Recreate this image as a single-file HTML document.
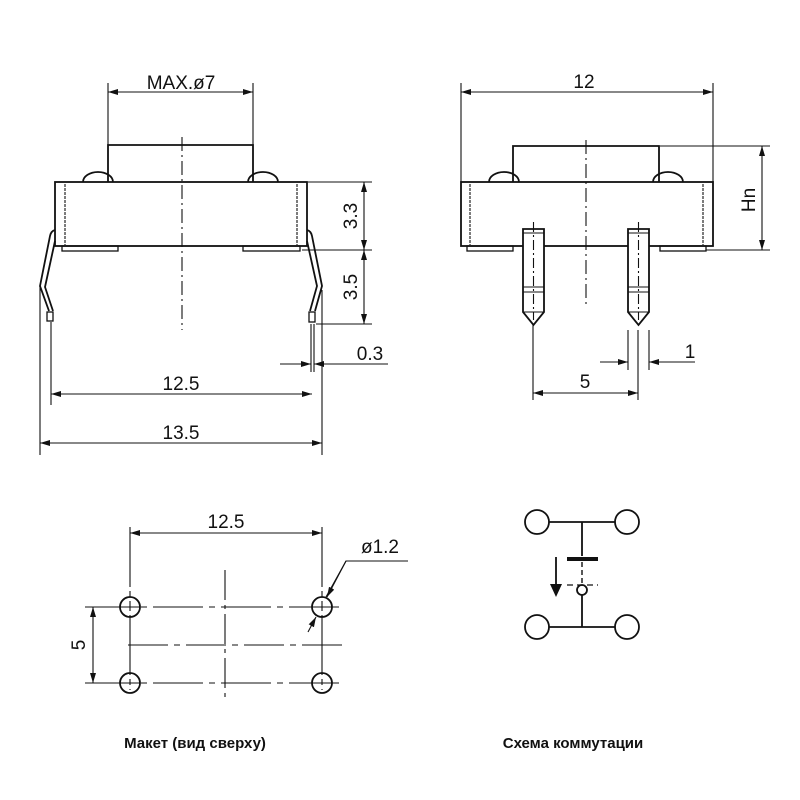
<!DOCTYPE html>
<html><head><meta charset="utf-8"><style>
html,body{margin:0;padding:0;background:#fff}
svg{display:block}
text{font-family:"Liberation Sans",Arial,sans-serif;fill:#111}
</style></head><body>
<svg width="800" height="800" viewBox="0 0 800 800" xmlns="http://www.w3.org/2000/svg">
<defs>
<marker id="a" viewBox="0 0 10 6" refX="10" refY="3" markerWidth="10" markerHeight="6" orient="auto-start-reverse" markerUnits="userSpaceOnUse"><path d="M0,0 L10,3 L0,6 z" fill="#111"/></marker>
</defs>
<g stroke="#111" fill="none" stroke-width="1.1">
<!-- ===== Top-left view ===== -->
<line x1="108" y1="83" x2="108" y2="145"/><line x1="253" y1="83" x2="253" y2="145"/>
<line x1="108" y1="92" x2="253" y2="92" marker-start="url(#a)" marker-end="url(#a)"/>
<g stroke-width="1.8">
<polyline points="108,182 108,145 253,145 253,182"/>
<path d="M83,182 A15,10 0 0 1 113,182"/><path d="M248,182 A15,10 0 0 1 278,182"/>
<rect x="55" y="182" width="252" height="64"/>
<rect x="62" y="246" width="56" height="5" stroke-width="1.3"/>
<rect x="243" y="246" width="57" height="5" stroke-width="1.3"/>
<path d="M55,230 Q51,231 50,236 L40,286 L49,311"/>
<polyline points="55,241 45,287 53,311"/>
<rect x="47" y="312" width="6" height="9" stroke-width="1.3"/>
<path d="M307,230 Q311,231 312,236 L322,286 L315,311"/>
<polyline points="307,241 317,286 310,311"/>
<rect x="309" y="312" width="6" height="10" stroke-width="1.3"/>
</g>
<line x1="65" y1="184" x2="65" y2="245" stroke-dasharray="3,1"/>
<line x1="297" y1="184" x2="297" y2="245" stroke-dasharray="3,1"/>
<line x1="182" y1="137" x2="182" y2="330" stroke-dasharray="14,4,2,4"/>
<line x1="308" y1="182" x2="372" y2="182"/>
<line x1="302" y1="250" x2="372" y2="250"/>
<line x1="316" y1="324" x2="372" y2="324"/>
<line x1="364" y1="182" x2="364" y2="250" marker-start="url(#a)" marker-end="url(#a)"/>
<line x1="364" y1="250" x2="364" y2="324" marker-start="url(#a)" marker-end="url(#a)"/>
<line x1="311" y1="324" x2="311" y2="372"/><line x1="314" y1="324" x2="314" y2="372"/>
<line x1="280" y1="364" x2="311" y2="364" marker-end="url(#a)"/>
<line x1="388" y1="364" x2="314" y2="364" marker-end="url(#a)"/>
<line x1="51" y1="322" x2="51" y2="405"/>
<line x1="40" y1="286" x2="40" y2="455"/>
<line x1="322" y1="290" x2="322" y2="455"/>
<line x1="51" y1="394" x2="312" y2="394" marker-start="url(#a)" marker-end="url(#a)"/>
<line x1="40" y1="443" x2="322" y2="443" marker-start="url(#a)" marker-end="url(#a)"/>
<!-- ===== Top-right view ===== -->
<line x1="461" y1="83" x2="461" y2="182"/><line x1="713" y1="83" x2="713" y2="182"/>
<line x1="461" y1="92" x2="713" y2="92" marker-start="url(#a)" marker-end="url(#a)"/>
<g stroke-width="1.8">
<polyline points="513,182 513,146 659,146 659,182"/>
<path d="M489,182 A15,10 0 0 1 519,182"/><path d="M653,182 A15,10 0 0 1 683,182"/>
<rect x="461" y="182" width="252" height="64"/>
<rect x="467" y="246" width="46" height="5" stroke-width="1.3"/>
<rect x="660" y="246" width="46" height="5" stroke-width="1.3"/>
<path d="M523,229 H544 V312 L533.5,325 L523,312 Z" fill="#fff"/>
<path d="M628,229 H649 V312 L638.5,325 L628,312 Z" fill="#fff"/>
</g>
<line x1="523" y1="233" x2="544" y2="233"/><line x1="523" y1="287" x2="544" y2="287"/><line x1="523" y1="292" x2="544" y2="292"/><line x1="523" y1="312" x2="544" y2="312"/>
<line x1="628" y1="233" x2="649" y2="233"/><line x1="628" y1="287" x2="649" y2="287"/><line x1="628" y1="292" x2="649" y2="292"/><line x1="628" y1="312" x2="649" y2="312"/>
<line x1="533.5" y1="222" x2="533.5" y2="320" stroke-dasharray="10,3,2,3"/>
<line x1="638.5" y1="222" x2="638.5" y2="320" stroke-dasharray="10,3,2,3"/>
<line x1="470" y1="184" x2="470" y2="245" stroke-dasharray="3,1"/>
<line x1="703" y1="184" x2="703" y2="245" stroke-dasharray="3,1"/>
<line x1="586" y1="140" x2="586" y2="305" stroke-dasharray="14,4,2,4"/>
<line x1="660" y1="146" x2="770" y2="146"/>
<line x1="706" y1="250" x2="770" y2="250"/>
<line x1="762" y1="146" x2="762" y2="250" marker-start="url(#a)" marker-end="url(#a)"/>
<line x1="628" y1="330" x2="628" y2="370"/><line x1="649" y1="330" x2="649" y2="370"/>
<line x1="600" y1="362" x2="628" y2="362" marker-end="url(#a)"/>
<line x1="695" y1="362" x2="649" y2="362" marker-end="url(#a)"/>
<line x1="533" y1="325" x2="533" y2="400"/><line x1="638" y1="330" x2="638" y2="400"/>
<line x1="533" y1="393" x2="638" y2="393" marker-start="url(#a)" marker-end="url(#a)"/>
<!-- ===== Bottom-left layout ===== -->
<line x1="130" y1="527" x2="130" y2="690" stroke-dasharray="60,4,6,4,10,4"/>
<line x1="322" y1="527" x2="322" y2="690" stroke-dasharray="60,4,6,4,10,4"/>
<line x1="130" y1="533" x2="322" y2="533" marker-start="url(#a)" marker-end="url(#a)"/>
<line x1="85" y1="607" x2="342" y2="607" stroke-dasharray="50,6,6,6"/>
<line x1="85" y1="683" x2="342" y2="683" stroke-dasharray="50,6,6,6"/>
<line x1="128" y1="645" x2="347" y2="645" stroke-dasharray="40,6,6,6"/>
<line x1="225" y1="570" x2="225" y2="700" stroke-dasharray="30,5,4,5"/>
<line x1="93" y1="607" x2="93" y2="683" marker-start="url(#a)" marker-end="url(#a)"/>
<g stroke-width="1.8">
<circle cx="130" cy="607" r="10"/><circle cx="322" cy="607" r="10"/>
<circle cx="130" cy="683" r="10"/><circle cx="322" cy="683" r="10"/>
</g>
<line x1="120" y1="607" x2="140" y2="607"/><line x1="312" y1="607" x2="332" y2="607"/>
<line x1="120" y1="683" x2="140" y2="683"/><line x1="312" y1="683" x2="332" y2="683"/>
<polyline points="408,561 346,561 326,597"/>
<line x1="346" y1="561" x2="327" y2="597" marker-end="url(#a)"/>
<line x1="308" y1="632" x2="316" y2="617" marker-end="url(#a)"/>
<!-- ===== Bottom-right schematic ===== -->
<g stroke-width="1.8">
<circle cx="537" cy="522" r="12"/><circle cx="627" cy="522" r="12"/>
<circle cx="537" cy="627" r="12"/><circle cx="627" cy="627" r="12"/>
<line x1="549" y1="522" x2="615" y2="522"/><line x1="549" y1="627" x2="615" y2="627"/>
<line x1="582" y1="522" x2="582" y2="556"/>
<line x1="582" y1="595" x2="582" y2="627"/>
<circle cx="582" cy="590" r="5"/>
</g>
<line x1="567" y1="559" x2="598" y2="559" stroke-width="4"/>
<line x1="582" y1="562" x2="582" y2="585" stroke-width="1.4" stroke-dasharray="5,3"/>
<line x1="567" y1="585" x2="598" y2="585" stroke-width="1.2" stroke-dasharray="6,4"/>
<line x1="556" y1="557" x2="556" y2="584" stroke-width="1.8"/>
</g>
<path d="M550,584 L562,584 L556,597 Z" fill="#111"/>
<!-- Text -->
<text x="181" y="89" font-size="19" text-anchor="middle">MAX.ø7</text>
<text x="352" y="216" font-size="19" text-anchor="middle" transform="rotate(-90 352 216)" dominant-baseline="middle">3.3</text>
<text x="352" y="287" font-size="19" text-anchor="middle" transform="rotate(-90 352 287)" dominant-baseline="middle">3.5</text>
<text x="370" y="360" font-size="19" text-anchor="middle">0.3</text>
<text x="181" y="390" font-size="19" text-anchor="middle">12.5</text>
<text x="181" y="439" font-size="19" text-anchor="middle">13.5</text>
<text x="584" y="88" font-size="19" text-anchor="middle">12</text>
<text x="750" y="200" font-size="19" text-anchor="middle" transform="rotate(-90 750 200)" dominant-baseline="middle">Hn</text>
<text x="690" y="358" font-size="19" text-anchor="middle">1</text>
<text x="585" y="388" font-size="19" text-anchor="middle">5</text>
<text x="226" y="528" font-size="19" text-anchor="middle">12.5</text>
<text x="380" y="553" font-size="19" text-anchor="middle">ø1.2</text>
<text x="80" y="645" font-size="19" text-anchor="middle" transform="rotate(-90 80 645)" dominant-baseline="middle">5</text>
<text x="195" y="748" font-size="15" font-weight="bold" text-anchor="middle" style="font-family:'Liberation Sans','DejaVu Sans',sans-serif">Макет (вид сверху)</text>
<text x="573" y="748" font-size="15" font-weight="bold" text-anchor="middle" style="font-family:'Liberation Sans','DejaVu Sans',sans-serif">Схема коммутации</text>
</svg>
</body></html>
